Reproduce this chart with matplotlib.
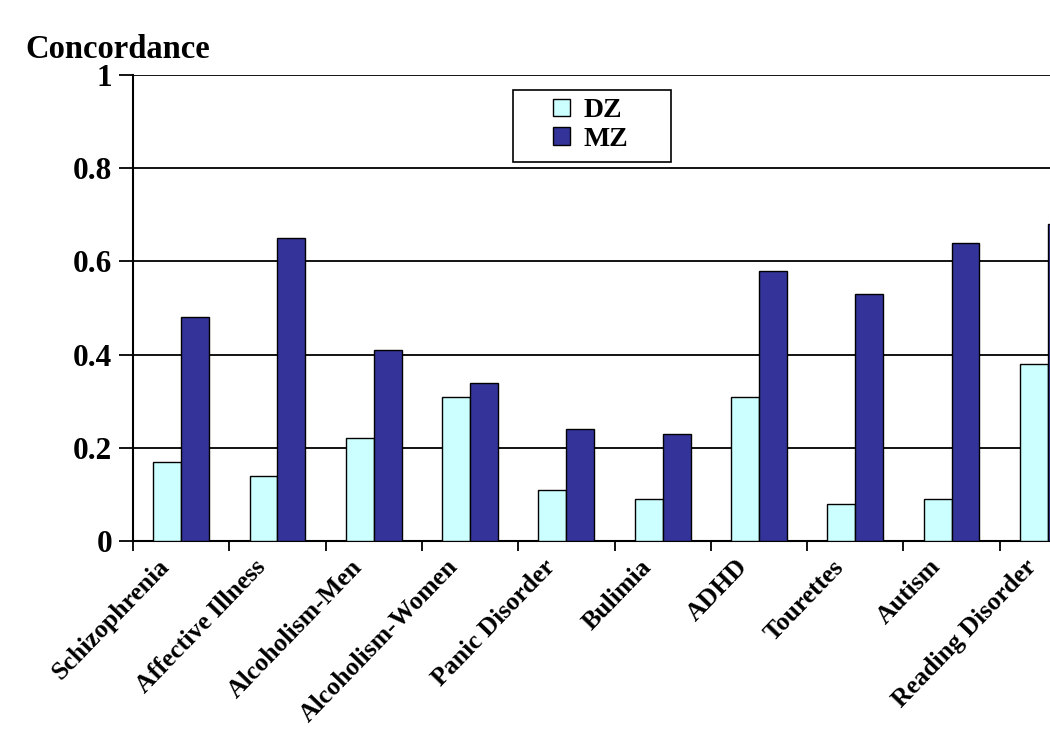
import matplotlib.pyplot as plt
from matplotlib.patches import Rectangle
import numpy as np

categories = ['Schizophrenia', 'Affective Illness', 'Alcoholism-Men', 'Alcoholism-Women',
              'Panic Disorder', 'Bulimia', 'ADHD', 'Tourettes', 'Autism', 'Reading Disorder']
dz = [0.17, 0.14, 0.22, 0.31, 0.11, 0.09, 0.31, 0.08, 0.09, 0.38]
mz = [0.48, 0.65, 0.41, 0.34, 0.24, 0.23, 0.58, 0.53, 0.64, 0.68]
yticks = [0, 0.2, 0.4, 0.6, 0.8, 1]
ytick_labels = ['0', '0.2', '0.4', '0.6', '0.8', '1']

plt.rcParams['font.family'] = ['Liberation Serif', 'DejaVu Serif']
plt.rcParams['font.weight'] = 'bold'

fig = plt.figure(figsize=(10.5, 7.38), dpi=100)
# axes runs off the right edge, the last bar is cut like in the original slide
ax = fig.add_axes([133 / 1050, 1 - 541 / 738, 963 / 1050, 466 / 738])

x = np.arange(len(categories))
w = 0.29
ax.bar(x - w / 2, dz, w, color='#CCFFFF', edgecolor='black', linewidth=1, label='DZ', zorder=3)
ax.bar(x + w / 2, mz, w, color='#333399', edgecolor='black', linewidth=1, label='MZ', zorder=3)

ax.set_xlim(-0.5, len(categories) - 0.5)
ax.set_ylim(0, 1)
ax.set_yticks(yticks)
ax.set_yticklabels(ytick_labels, fontsize=22.5, fontweight='bold')
for t in yticks[1:]:
    ax.axhline(t, color='black', linewidth=1.3, zorder=1)

ax.set_xticks(np.arange(len(categories) + 1) - 0.5)
ax.set_xticklabels([])
ax.tick_params(axis='x', length=7, width=1.3, direction='out')
ax.tick_params(axis='y', length=10, width=1.3, direction='out', pad=5)
for i, c in enumerate(categories):
    ax.annotate(c, xy=(i, 0), xycoords=('data', 'axes fraction'), xytext=(-11, -16),
                textcoords='offset points', rotation=46, rotation_mode='anchor',
                ha='right', va='center', fontsize=18.5, fontweight='bold')

for s in ['top', 'right']:
    ax.spines[s].set_visible(False)
ax.spines['left'].set_linewidth(1.5)
ax.spines['bottom'].set_linewidth(1.5)

# legend box drawn by hand, Excel style with wide padding
box = Rectangle((0.3946, 0.8133), 0.1641, 0.1545, transform=ax.transAxes,
                facecolor='white', edgecolor='black', linewidth=1.2, zorder=4)
ax.add_patch(box)
leg = ax.legend(loc='upper left', bbox_to_anchor=(0.436, 0.95), borderaxespad=0,
                frameon=False, fontsize=20, borderpad=0,
                handlelength=0.6, handleheight=0.6, handletextpad=0.5,
                labelspacing=0.12)
leg.set_zorder(5)
for txt in leg.get_texts():
    txt.set_fontweight('bold')

fig.text(25 / 1050, 1 - 58 / 738, 'Concordance', fontsize=23.5, fontweight='bold', va='baseline')

fig.savefig('out.png', dpi=100)
